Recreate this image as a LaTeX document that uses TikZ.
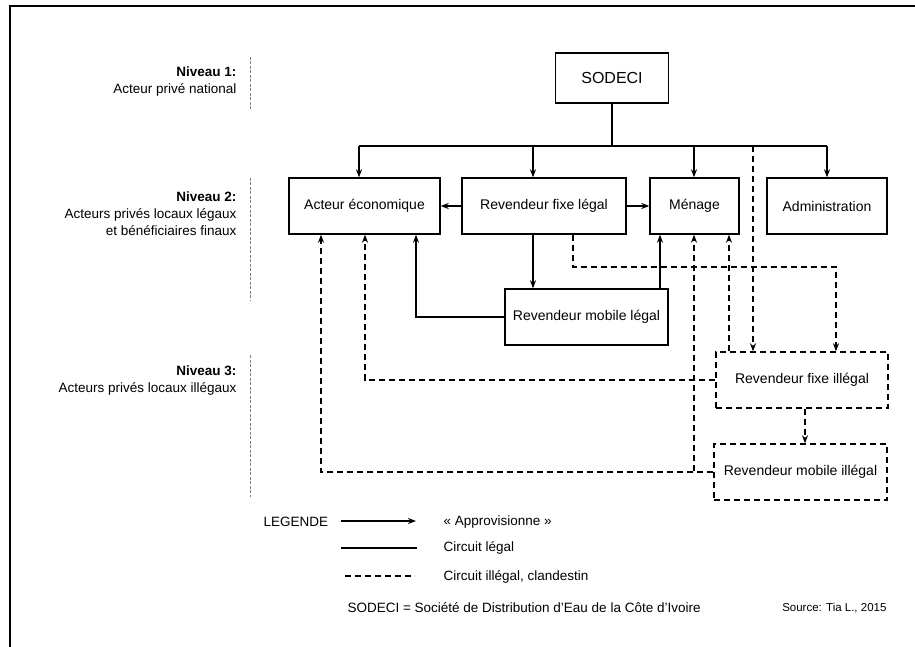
\documentclass[tikz,border=0pt]{standalone}
\usepackage{fontspec}
\setmainfont{Liberation Sans}
\usetikzlibrary{arrows.meta}

\begin{document}
\begin{tikzpicture}[x=1pt,y=-1pt,
    box/.style={draw, line width=1.4pt, inner sep=0pt, minimum height=56pt, font=\fontsize{14}{16}\selectfont},
    illbox/.style={box, dash pattern=on 6pt off 4pt},
    legal/.style={line width=1.4pt},
    illegal/.style={line width=1.4pt, dash pattern=on 6pt off 4pt},
    tip/.style={-{Stealth[length=8pt,width=6pt,inset=2.5pt]}},
    level/.style={anchor=east, align=right, font=\fontsize{13.5}{17}\selectfont},
    sep/.style={gray, line width=0.8pt, dash pattern=on 3pt off 1.5pt},
    txt/.style={anchor=west, font=\fontsize{13.5}{16}\selectfont}]
    \useasboundingbox (0,0) rectangle (915,647);

    % Frame
    \draw[line width=2.2pt] (10,660) -- (10,6) -- (925,6);

    % Levels
    \node[level] (N1) at (240,82) {\textbf{Niveau 1:}\\Acteur privé national};
    \node[level] (N2) at (240,213.5) {\textbf{Niveau 2:}\\Acteurs privés locaux légaux\\et bénéficiaires finaux};
    \node[level] (N3) at (240,381) {\textbf{Niveau 3:}\\Acteurs privés locaux illégaux};
    \draw[sep] (250,57) -- (250,110);
    \draw[sep] (250,178) -- (250,300);
    \draw[sep] (250,355) -- (250,497);

    % Actors
    \node[box, minimum width=113pt, minimum height=50pt, font=\fontsize{16}{18}\selectfont] (SODECI) at (612,78) {SODECI};
    \node[box, minimum width=151pt] (AE) at (364.5,206) {Acteur économique};
    \node[box, minimum width=164pt] (RFL) at (544,206) {Revendeur fixe légal};
    \node[box, minimum width=89pt] (MEN) at (694.5,206) {Ménage};
    \node[box, minimum width=120pt] (ADM) at (827,206) {Administration};
    \node[box, minimum width=163pt] (RML) at (586.5,317) {Revendeur mobile légal};
    \node[illbox, minimum width=172pt] (RFI) at (802,380) {Revendeur fixe illégal};
    \node[illbox, minimum width=173pt] (RMI) at (800.5,472) {Revendeur mobile illégal};

    % Legal circuit
    \coordinate (busL) at (359,146);
    \coordinate (busR) at (827,146);
    \draw[legal] (SODECI.south) -- (SODECI.south |- busL);
    \draw[legal] (busL) -- (busR);
    \foreach \xx/\nd in {359/AE, 533/RFL, 694/MEN, 827/ADM}
        \draw[legal,tip] (\xx,146) -- (\xx,146 |- \nd.north);
    \draw[legal,tip] (RFL.west) -- (AE.east);
    \draw[legal,tip] (RFL.east) -- (MEN.west);
    \draw[legal,tip] (RFL.south -| 533,0) -- (RML.north -| 533,0);
    \draw[legal,tip] (RML.west) -| (AE.south -| 416,0);
    \draw[legal,tip] (RML.north -| 660,0) -- (MEN.south -| 660,0);

    % Illegal circuit
    \draw[illegal,tip] (753,146) -- (RFI.north -| 753,0);
    \draw[illegal,tip] (RFL.south -| 573,0) -- (573,267) -| (RFI.north -| 836,0);
    \draw[illegal,tip] (RFI.north -| 729,0) -- (MEN.south -| 729,0);
    \draw[illegal,tip] (RFI.west) -| (AE.south -| 365,0);
    \draw[illegal,tip] (RFI.south -| 805,0) -- (RMI.north -| 805,0);
    \draw[illegal,tip] (RMI.west) -| (MEN.south -| 694,0);
    \draw[illegal,tip] (RMI.west) -| (AE.south -| 321,0);

    % Legend
    \node[txt] (LEG) at (260,522) {LEGENDE};
    \coordinate (L1a) at (341,521);
    \coordinate (L1b) at (416,521);
    \coordinate (L2a) at (341,548);
    \coordinate (L2b) at (417,548);
    \coordinate (L3a) at (345,576);
    \coordinate (L3b) at (415,576);
    \draw[legal,tip] (L1a) -- (L1b);
    \draw[legal] (L2a) -- (L2b);
    \draw[illegal] (L3a) -- (L3b);
    \node[txt] (APP) at (440,522) {« Approvisionne »};
    \node[txt] (CL) at (440,548) {Circuit légal};
    \node[txt] (CI) at (440,577) {Circuit illégal, clandestin};
    \node[txt] (DEF) at (344,608) {SODECI = Société de Distribution d’Eau de la Côte d’Ivoire};
    \node[anchor=east, font=\fontsize{11.5}{14}\selectfont] (SRC) at (890,608) {Source: Tia L., 2015};

\end{tikzpicture}
\end{document}
